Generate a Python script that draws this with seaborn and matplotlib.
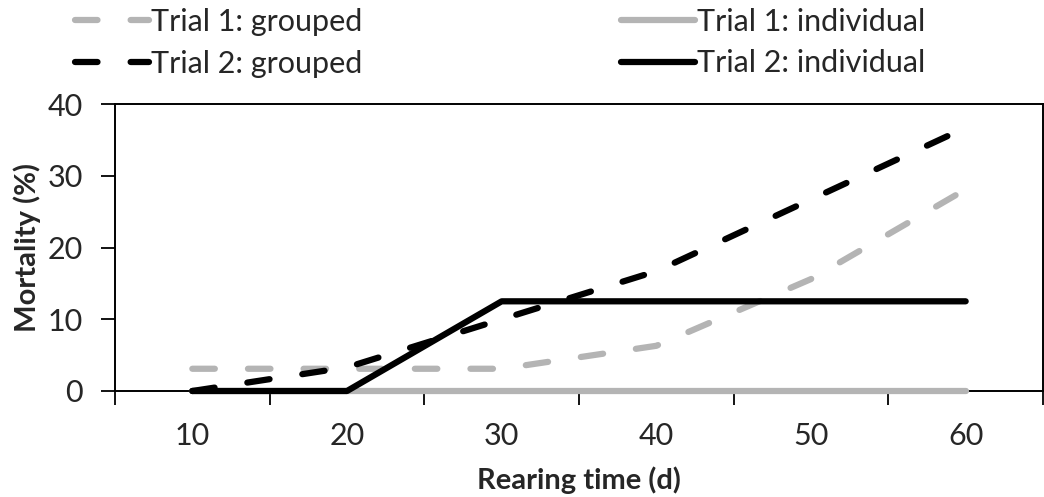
import numpy as np
import pandas as pd
import matplotlib
matplotlib.use("Agg")
import matplotlib.pyplot as plt
import seaborn as sns

# data
days = [10, 20, 30, 40, 50, 60]
trial1_grouped = [3.1, 3.1, 3.1, 6.3, 15.6, 28.1]
trial1_individual = [0, 0, 0, 0, 0, 0]
trial2_grouped = [0, 3.3, 10.0, 16.7, 26.7, 36.7]
trial2_individual = [0, 0, 12.5, 12.5, 12.5, 12.5]

series_names = ["Trial 1: grouped", "Trial 1: individual",
                "Trial 2: grouped", "Trial 2: individual"]
series_values = [trial1_grouped, trial1_individual, trial2_grouped, trial2_individual]

sns.set_theme(style="ticks")
plt.rcParams['font.family'] = ['Lato', 'DejaVu Sans']

GRAY = "#b4b4b4"
dash = (0, (3.6, 5.3))
styles = {
    "Trial 1: grouped": (GRAY, dash),
    "Trial 1: individual": (GRAY, "-"),
    "Trial 2: grouped": ("black", dash),
    "Trial 2: individual": ("black", "-"),
}

fig = plt.figure(figsize=(10.44, 4.97), dpi=100)
ax = fig.add_axes([115/1044, 1 - 391/497, 928/1044, 287/497])

for name, vals in zip(series_names, series_values):
    df = pd.DataFrame({"day": days, "mort": vals})
    col, ls = styles[name]
    sns.lineplot(data=df, x="day", y="mort", ax=ax, color=col, linestyle=ls,
                 linewidth=4.5, errorbar=None, label=name,
                 dash_capstyle="round", solid_capstyle="round")

# lines sit on top of the axis line, like the original
for ln in ax.lines:
    ln.set_clip_on(False)
    ln.set_zorder(3)

ax.set_xlim(5, 65)
ax.set_ylim(0, 40)
ax.set_yticks([0, 10, 20, 30, 40])
ax.set_xticks(np.arange(5, 66, 10))
ax.set_xticklabels([])
ax.set_xticks(days, minor=True)
ax.set_xticklabels([str(d) for d in days], minor=True)
ax.tick_params(axis="x", which="major", length=10, width=1.3, direction="out", color="black")
ax.tick_params(axis="x", which="minor", length=0, pad=22, labelsize=22)
ax.tick_params(axis="y", length=10, width=1.3, direction="out", pad=13, labelsize=22, color="black")

for s in ax.spines.values():
    s.set_visible(True)
    s.set_linewidth(1.4)
    s.set_color("black")

ax.set_xlabel("Rearing time (d)", fontsize=21, fontweight="bold", labelpad=12)
ax.set_ylabel("Mortality (%)", fontsize=21, fontweight="bold", labelpad=5)

handles, labels = ax.get_legend_handles_labels()
ax.get_legend().remove()
order = [0, 2, 1, 3]
fig.legend([handles[i] for i in order], [labels[i] for i in order],
           loc="upper left", bbox_to_anchor=(72/1044, 1 - 5/497), ncol=2,
           frameon=False, fontsize=22, handlelength=2.42, handletextpad=0.08,
           columnspacing=8.45, labelspacing=0.44, borderpad=0.1, borderaxespad=0)

fig.savefig("out.png", dpi=100)
